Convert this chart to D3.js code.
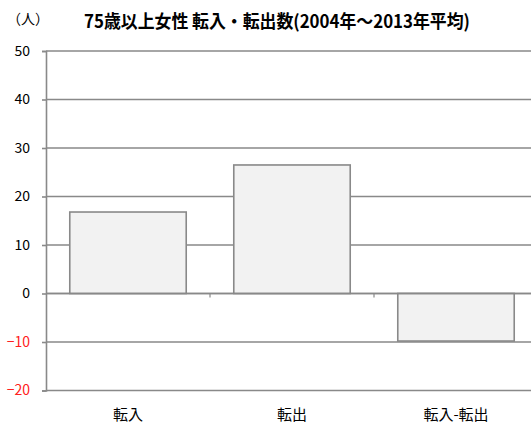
<!DOCTYPE html>
<html><head><meta charset="utf-8">
<script src="https://cdn.jsdelivr.net/npm/d3@7"></script>
<style>body{margin:0;background:#fff;}svg{display:block;}</style>
</head><body>
<svg id="c" width="531" height="425"></svg>
<script>
const categories = ["転入", "転出", "転入-転出"];
const values = [16.8, 26.5, -9.8];
const yTicks = [50, 40, 30, 20, 10, 0, -10, -20];
const title = "75歳以上女性 転入・転出数(2004年～2013年平均)";
const unit = "（人）";

(function () {
const svg = d3.select("#c");
const font = "'Noto Sans CJK JP', sans-serif";
const mLeft = 46, mRight = 538, mTop = 51, mBottom = 390.5;
const x = d3.scaleBand().domain(categories).range([mLeft, mRight]).paddingInner(0.29).paddingOuter(0.145);
const y = d3.scaleLinear().domain([-20, 50]).range([mBottom, mTop]);
const grid = "#898989";

svg.append("g").selectAll("line").data(yTicks).join("line")
  .attr("x1", mLeft).attr("x2", mRight)
  .attr("y1", d => y(d)).attr("y2", d => y(d))
  .attr("stroke", grid).attr("stroke-width", 1.6);

const yAxis = svg.append("g").attr("transform", `translate(${mLeft},0)`)
  .call(d3.axisLeft(y).tickValues(yTicks).tickSize(4).tickPadding(12).tickFormat(d => d < 0 ? "−" + Math.abs(d) : d));
yAxis.select(".domain").attr("stroke", grid).attr("stroke-width", 1.6);
yAxis.selectAll(".tick line").attr("stroke", grid).attr("stroke-width", 1.6);
yAxis.selectAll(".tick text").attr("font-family", font).attr("font-size", 14)
  .attr("fill", d => d < 0 ? "#ff2020" : "#000");

svg.append("g").selectAll("rect").data(values).join("rect")
  .attr("x", (d, i) => x(categories[i]))
  .attr("width", x.bandwidth())
  .attr("y", d => y(Math.max(0, d)))
  .attr("height", d => Math.abs(y(d) - y(0)))
  .attr("fill", "#f2f2f2").attr("stroke", grid).attr("stroke-width", 1.6);

svg.append("line").attr("x1", mLeft).attr("x2", mRight).attr("y1", y(0)).attr("y2", y(0))
  .attr("stroke", grid).attr("stroke-width", 1.6);

const seps = categories.slice(1).map(c => x(c) - x.step() * x.paddingInner() / 2);
svg.append("g").selectAll("line").data(seps).join("line")
  .attr("x1", d => d).attr("x2", d => d).attr("y1", y(0)).attr("y2", y(0) + 4)
  .attr("stroke", grid).attr("stroke-width", 1.2);

svg.append("g").selectAll("text").data(categories).join("text")
  .attr("x", d => x(d) + x.bandwidth() / 2).attr("y", 420)
  .attr("text-anchor", "middle").attr("font-family", font).attr("font-size", 15)
  .text(d => d);

svg.append("text").attr("x", 84).attr("y", 28).attr("font-family", font)
  .attr("font-size", 18).attr("font-weight", "bold")
  .attr("textLength", 386).attr("lengthAdjust", "spacingAndGlyphs").text(title);
svg.append("text").attr("x", 7).attr("y", 24).attr("font-family", font)
  .attr("font-size", 14).text(unit);
})();
</script>
</body></html>
